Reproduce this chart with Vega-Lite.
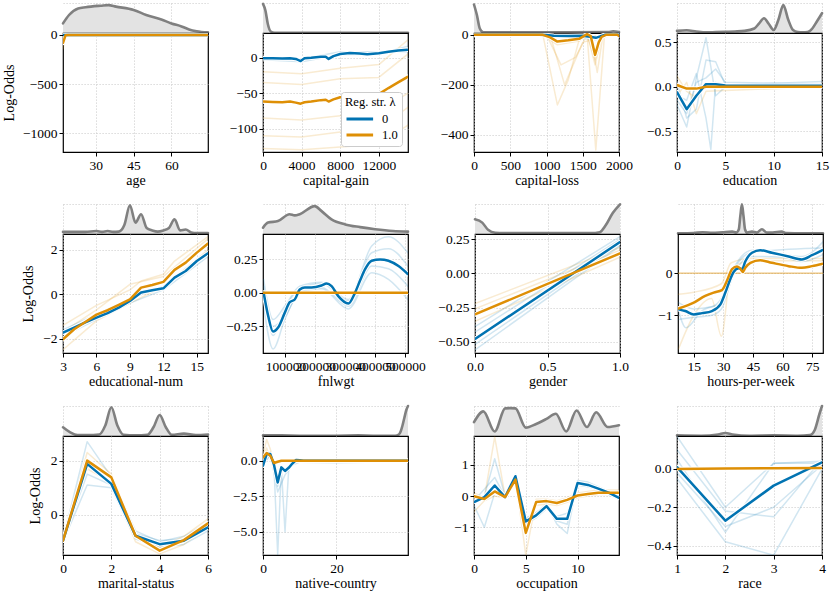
{
"$schema":"https://vega.github.io/schema/vega-lite/v6.json",
"padding":{"left":2,"top":2,"right":2,"bottom":2},
"background":"white",
"config":{
 "font":"Liberation Serif",
 "view":{"stroke":"black","strokeWidth":1.2},
 "axis":{"labelFont":"Liberation Serif","labelFontSize":13.5,"labelColor":"black","titleFont":"Liberation Serif","titleFontSize":14,"titleFontWeight":"normal","titleColor":"black","tickColor":"black","tickSize":4,"tickWidth":1,"labelPadding":2,"titlePadding":2,"domain":false,"gridColor":"#c4c4c4","gridDash":[1.2,1.8],"gridWidth":0.8,"labelFlush":false,"labelOverlap":false},
 "legend":{"labelFont":"Liberation Serif","titleFont":"Liberation Serif","labelFontSize":12.5,"titleFontSize":12.5,"titleFontWeight":"normal","labelColor":"black","titleColor":"black"},
 "line":{"strokeCap":"round","strokeJoin":"round"}
},
"datasets":{
"D_age":[{"x":17,"d":0.32},{"x":19.4,"d":0.6},{"x":23,"d":0.82},{"x":26,"d":0.86},{"x":32,"d":0.91},{"x":35,"d":0.93},{"x":38,"d":0.88},{"x":45,"d":0.77},{"x":50,"d":0.6},{"x":56,"d":0.45},{"x":60,"d":0.32},{"x":64,"d":0.22},{"x":67,"d":0.12},{"x":70,"d":0.06},{"x":74.5,"d":0.02}],
"L_age":[{"l":"0","s":"m","x":17,"y":0},{"l":"0","s":"m","x":30,"y":0},{"l":"0","s":"m","x":45,"y":0},{"l":"0","s":"m","x":60,"y":0},{"l":"0","s":"m","x":74.5,"y":0},
{"l":"1.0","s":"m","x":17,"y":-80},{"l":"1.0","s":"m","x":18,"y":-3},{"l":"1.0","s":"m","x":19,"y":0},{"l":"1.0","s":"m","x":45,"y":0},{"l":"1.0","s":"m","x":74.5,"y":0},
{"l":"0","s":"a","x":17,"y":-8},{"l":"0","s":"a","x":19,"y":0},{"l":"0","s":"a","x":74.5,"y":0},
{"l":"1.0","s":"a","x":17,"y":-140},{"l":"1.0","s":"a","x":18,"y":-10},{"l":"1.0","s":"a","x":19,"y":0},{"l":"1.0","s":"a","x":74.5,"y":0},
{"l":"1.0","s":"b","x":17,"y":-40},{"l":"1.0","s":"b","x":18,"y":0},{"l":"1.0","s":"b","x":74.5,"y":0}],
"D_cg":[{"x":0,"d":0.97},{"x":250,"d":0.75},{"x":500,"d":0.3},{"x":800,"d":0.05},{"x":1200,"d":0.01},{"x":15024,"d":0.01}],
"L_cg":[{"l":"0","s":"m","x":0,"y":-1},{"l":"0","s":"m","x":1000,"y":-1},{"l":"0","s":"m","x":2000,"y":-1.5},{"l":"0","s":"m","x":2800,"y":-1},{"l":"0","s":"m","x":3400,"y":-2},{"l":"0","s":"m","x":3900,"y":-5},{"l":"0","s":"m","x":4300,"y":-1},{"l":"0","s":"m","x":5000,"y":-0.5},{"l":"0","s":"m","x":6000,"y":1},{"l":"0","s":"m","x":6500,"y":1},{"l":"0","s":"m","x":6800,"y":-2},{"l":"0","s":"m","x":7300,"y":2},{"l":"0","s":"m","x":8000,"y":5},{"l":"0","s":"m","x":9000,"y":6.5},{"l":"0","s":"m","x":10000,"y":5.5},{"l":"0","s":"m","x":10800,"y":4.5},{"l":"0","s":"m","x":12000,"y":6},{"l":"0","s":"m","x":13000,"y":8},{"l":"0","s":"m","x":14000,"y":10},{"l":"0","s":"m","x":15024,"y":11},
{"l":"1.0","s":"m","x":0,"y":-62},{"l":"1.0","s":"m","x":1000,"y":-62.5},{"l":"1.0","s":"m","x":2000,"y":-63},{"l":"1.0","s":"m","x":2800,"y":-62},{"l":"1.0","s":"m","x":3400,"y":-63.5},{"l":"1.0","s":"m","x":3900,"y":-65},{"l":"1.0","s":"m","x":4300,"y":-63},{"l":"1.0","s":"m","x":5000,"y":-62},{"l":"1.0","s":"m","x":6000,"y":-60},{"l":"1.0","s":"m","x":6500,"y":-59.5},{"l":"1.0","s":"m","x":6800,"y":-62},{"l":"1.0","s":"m","x":7300,"y":-59},{"l":"1.0","s":"m","x":8000,"y":-56},{"l":"1.0","s":"m","x":9000,"y":-55},{"l":"1.0","s":"m","x":10000,"y":-54},{"l":"1.0","s":"m","x":11000,"y":-53},{"l":"1.0","s":"m","x":12000,"y":-51.5},{"l":"1.0","s":"m","x":13000,"y":-43},{"l":"1.0","s":"m","x":14000,"y":-35},{"l":"1.0","s":"m","x":15024,"y":-27},
{"l":"1.0","s":"a","x":0,"y":-20},{"l":"1.0","s":"a","x":4000,"y":-23},{"l":"1.0","s":"a","x":8000,"y":-15},{"l":"1.0","s":"a","x":12000,"y":-10},{"l":"1.0","s":"a","x":15024,"y":25},
{"l":"1.0","s":"b","x":0,"y":-35},{"l":"1.0","s":"b","x":4000,"y":-38},{"l":"1.0","s":"b","x":8000,"y":-30},{"l":"1.0","s":"b","x":12000,"y":-28},{"l":"1.0","s":"b","x":15024,"y":5},
{"l":"1.0","s":"c","x":0,"y":-85},{"l":"1.0","s":"c","x":4000,"y":-88},{"l":"1.0","s":"c","x":8000,"y":-82},{"l":"1.0","s":"c","x":12000,"y":-75},{"l":"1.0","s":"c","x":15024,"y":-50},
{"l":"1.0","s":"d","x":0,"y":-110},{"l":"1.0","s":"d","x":4000,"y":-112},{"l":"1.0","s":"d","x":8000,"y":-105},{"l":"1.0","s":"d","x":12000,"y":-100},{"l":"1.0","s":"d","x":15024,"y":-70},
{"l":"1.0","s":"e","x":0,"y":-128},{"l":"1.0","s":"e","x":4000,"y":-130},{"l":"1.0","s":"e","x":8000,"y":-126},{"l":"1.0","s":"e","x":12000,"y":-122},{"l":"1.0","s":"e","x":15024,"y":-95},
{"l":"0","s":"a","x":0,"y":-3},{"l":"0","s":"a","x":4000,"y":-6},{"l":"0","s":"a","x":8000,"y":4},{"l":"0","s":"a","x":12000,"y":5},{"l":"0","s":"a","x":15024,"y":16},
{"l":"0","s":"b","x":0,"y":1},{"l":"0","s":"b","x":4000,"y":-2},{"l":"0","s":"b","x":8000,"y":8},{"l":"0","s":"b","x":12000,"y":8},{"l":"0","s":"b","x":15024,"y":8}],
"D_cl":[{"x":0,"d":0.95},{"x":40,"d":0.6},{"x":80,"d":0.15},{"x":130,"d":0.02},{"x":1000,"d":0.02},{"x":1850,"d":0.03},{"x":1920,"d":0.06},{"x":2000,"d":0.03}],
"L_cl":[{"l":"0","s":"m","x":0,"y":0},{"l":"0","s":"m","x":900,"y":0},{"l":"0","s":"m","x":1000,"y":-1},{"l":"0","s":"m","x":1100,"y":-4},{"l":"0","s":"m","x":1300,"y":-5},{"l":"0","s":"m","x":1500,"y":-4},{"l":"0","s":"m","x":1600,"y":-8},{"l":"0","s":"m","x":1680,"y":-12},{"l":"0","s":"m","x":1750,"y":-5},{"l":"0","s":"m","x":1800,"y":0},{"l":"0","s":"m","x":2000,"y":0},
{"l":"1.0","s":"m","x":0,"y":0},{"l":"1.0","s":"m","x":950,"y":0},{"l":"1.0","s":"m","x":1050,"y":-10},{"l":"1.0","s":"m","x":1150,"y":-27},{"l":"1.0","s":"m","x":1300,"y":-22},{"l":"1.0","s":"m","x":1450,"y":-16},{"l":"1.0","s":"m","x":1560,"y":3},{"l":"1.0","s":"m","x":1610,"y":-5},{"l":"1.0","s":"m","x":1670,"y":-80},{"l":"1.0","s":"m","x":1720,"y":-30},{"l":"1.0","s":"m","x":1760,"y":-8},{"l":"1.0","s":"m","x":1820,"y":0},{"l":"1.0","s":"m","x":1980,"y":0},{"l":"1.0","s":"m","x":2000,"y":-5},
{"l":"1.0","s":"a","x":0,"y":0},{"l":"1.0","s":"a","x":950,"y":0},{"l":"1.0","s":"a","x":1150,"y":-280},{"l":"1.0","s":"a","x":1300,"y":-180},{"l":"1.0","s":"a","x":1450,"y":-20},{"l":"1.0","s":"a","x":1560,"y":0},{"l":"1.0","s":"a","x":1670,"y":-100},{"l":"1.0","s":"a","x":1760,"y":0},{"l":"1.0","s":"a","x":2000,"y":0},
{"l":"1.0","s":"b","x":0,"y":0},{"l":"1.0","s":"b","x":1000,"y":0},{"l":"1.0","s":"b","x":1200,"y":-120},{"l":"1.0","s":"b","x":1400,"y":-90},{"l":"1.0","s":"b","x":1560,"y":0},{"l":"1.0","s":"b","x":1680,"y":-460},{"l":"1.0","s":"b","x":1740,"y":-230},{"l":"1.0","s":"b","x":1800,"y":0},{"l":"1.0","s":"b","x":2000,"y":0},
{"l":"1.0","s":"c","x":0,"y":0},{"l":"1.0","s":"c","x":1050,"y":0},{"l":"1.0","s":"c","x":1250,"y":-200},{"l":"1.0","s":"c","x":1500,"y":-30},{"l":"1.0","s":"c","x":1620,"y":-20},{"l":"1.0","s":"c","x":1700,"y":-150},{"l":"1.0","s":"c","x":1780,"y":0},{"l":"1.0","s":"c","x":2000,"y":0},
{"l":"1.0","s":"d","x":0,"y":0},{"l":"1.0","s":"d","x":950,"y":0},{"l":"1.0","s":"d","x":1150,"y":-40},{"l":"1.0","s":"d","x":1450,"y":-25},{"l":"1.0","s":"d","x":1560,"y":5},{"l":"1.0","s":"d","x":1670,"y":-120},{"l":"1.0","s":"d","x":1760,"y":-10},{"l":"1.0","s":"d","x":2000,"y":0},
{"l":"0","s":"a","x":0,"y":0},{"l":"0","s":"a","x":1000,"y":0},{"l":"0","s":"a","x":1300,"y":-8},{"l":"0","s":"a","x":1680,"y":-20},{"l":"0","s":"a","x":1800,"y":0},{"l":"0","s":"a","x":2000,"y":0}],
"D_ed":[{"x":0,"d":0.07},{"x":1,"d":0.09},{"x":2,"d":0.05},{"x":3,"d":0.02},{"x":4,"d":0.03},{"x":5,"d":0.04},{"x":6,"d":0.05},{"x":7,"d":0.07},{"x":8,"d":0.15},{"x":8.5,"d":0.32},{"x":9,"d":0.49},{"x":9.5,"d":0.3},{"x":10,"d":0.1},{"x":10.5,"d":0.45},{"x":11,"d":0.93},{"x":11.5,"d":0.45},{"x":12,"d":0.1},{"x":12.5,"d":0.03},{"x":13,"d":0.02},{"x":13.5,"d":0.03},{"x":14,"d":0.15},{"x":14.5,"d":0.4},{"x":15,"d":0.66}],
"L_ed":[{"l":"0","s":"m","x":0,"y":-0.06},{"l":"0","s":"m","x":1,"y":-0.25},{"l":"0","s":"m","x":2,"y":-0.1},{"l":"0","s":"m","x":3,"y":0.03},{"l":"0","s":"m","x":4,"y":0.03},{"l":"0","s":"m","x":5,"y":0.015},{"l":"0","s":"m","x":10,"y":0.012},{"l":"0","s":"m","x":15,"y":0.012},
{"l":"1.0","s":"m","x":0,"y":0.02},{"l":"1.0","s":"m","x":1,"y":-0.02},{"l":"1.0","s":"m","x":2,"y":-0.02},{"l":"1.0","s":"m","x":3,"y":0},{"l":"1.0","s":"m","x":4,"y":0},{"l":"1.0","s":"m","x":15,"y":0},
{"l":"0","s":"a","x":0,"y":-0.2},{"l":"0","s":"a","x":1,"y":-0.45},{"l":"0","s":"a","x":2,"y":0.1},{"l":"0","s":"a","x":3,"y":0.55},{"l":"0","s":"a","x":4,"y":-0.1},{"l":"0","s":"a","x":5,"y":0},{"l":"0","s":"a","x":15,"y":0.02},
{"l":"0","s":"b","x":0,"y":0.05},{"l":"0","s":"b","x":1,"y":-0.35},{"l":"0","s":"b","x":2,"y":-0.25},{"l":"0","s":"b","x":3,"y":0.3},{"l":"0","s":"b","x":4,"y":0.28},{"l":"0","s":"b","x":5,"y":0.02},{"l":"0","s":"b","x":15,"y":0.06},
{"l":"0","s":"c","x":0,"y":-0.1},{"l":"0","s":"c","x":1,"y":-0.15},{"l":"0","s":"c","x":2,"y":0.15},{"l":"0","s":"c","x":3,"y":-0.35},{"l":"0","s":"c","x":3.5,"y":-0.7},{"l":"0","s":"c","x":4,"y":0.05},{"l":"0","s":"c","x":5,"y":0.02},{"l":"0","s":"c","x":15,"y":0.01},
{"l":"0","s":"d","x":0,"y":-0.15},{"l":"0","s":"d","x":1,"y":-0.3},{"l":"0","s":"d","x":2,"y":0.05},{"l":"0","s":"d","x":3,"y":0.1},{"l":"0","s":"d","x":4,"y":0.2},{"l":"0","s":"d","x":5,"y":0.05},{"l":"0","s":"d","x":15,"y":0.03},
{"l":"1.0","s":"a","x":0,"y":0.12},{"l":"1.0","s":"a","x":1,"y":-0.05},{"l":"1.0","s":"a","x":2,"y":-0.12},{"l":"1.0","s":"a","x":3,"y":0.02},{"l":"1.0","s":"a","x":15,"y":0},
{"l":"1.0","s":"b","x":0,"y":-0.1},{"l":"1.0","s":"b","x":1,"y":0.05},{"l":"1.0","s":"b","x":2,"y":-0.3},{"l":"1.0","s":"b","x":3,"y":-0.05},{"l":"1.0","s":"b","x":15,"y":0}],
"D_en":[{"x":3,"d":0.07},{"x":5,"d":0.07},{"x":6,"d":0.1},{"x":6.5,"d":0.07},{"x":7,"d":0.1},{"x":7.5,"d":0.07},{"x":8,"d":0.08},{"x":8.5,"d":0.3},{"x":9,"d":0.96},{"x":9.5,"d":0.38},{"x":10,"d":0.66},{"x":10.5,"d":0.2},{"x":11,"d":0.12},{"x":11.5,"d":0.08},{"x":12,"d":0.12},{"x":12.5,"d":0.2},{"x":13,"d":0.49},{"x":13.5,"d":0.12},{"x":14,"d":0.15},{"x":14.5,"d":0.05},{"x":15,"d":0.03},{"x":16,"d":0.03}],
"L_en":[{"l":"0","s":"m","x":3,"y":-1.73},{"l":"0","s":"m","x":4,"y":-1.5},{"l":"0","s":"m","x":5,"y":-1.27},{"l":"0","s":"m","x":6,"y":-1.05},{"l":"0","s":"m","x":7,"y":-0.85},{"l":"0","s":"m","x":8,"y":-0.6},{"l":"0","s":"m","x":9,"y":-0.3},{"l":"0","s":"m","x":10,"y":0.08},{"l":"0","s":"m","x":11,"y":0.18},{"l":"0","s":"m","x":12,"y":0.27},{"l":"0","s":"m","x":13,"y":0.75},{"l":"0","s":"m","x":14,"y":1.05},{"l":"0","s":"m","x":15,"y":1.5},{"l":"0","s":"m","x":16,"y":1.85},
{"l":"1.0","s":"m","x":3,"y":-2.03},{"l":"1.0","s":"m","x":4,"y":-1.58},{"l":"1.0","s":"m","x":5,"y":-1.25},{"l":"1.0","s":"m","x":6,"y":-0.92},{"l":"1.0","s":"m","x":7,"y":-0.72},{"l":"1.0","s":"m","x":8,"y":-0.48},{"l":"1.0","s":"m","x":9,"y":-0.23},{"l":"1.0","s":"m","x":10,"y":0.3},{"l":"1.0","s":"m","x":11,"y":0.42},{"l":"1.0","s":"m","x":12,"y":0.56},{"l":"1.0","s":"m","x":13,"y":1.1},{"l":"1.0","s":"m","x":14,"y":1.43},{"l":"1.0","s":"m","x":15,"y":1.88},{"l":"1.0","s":"m","x":16,"y":2.29},
{"l":"1.0","s":"a","x":3,"y":-1.4},{"l":"1.0","s":"a","x":6,"y":-0.5},{"l":"1.0","s":"a","x":9,"y":0.2},{"l":"1.0","s":"a","x":10,"y":0.6},{"l":"1.0","s":"a","x":12,"y":0.9},{"l":"1.0","s":"a","x":13,"y":1.5},{"l":"1.0","s":"a","x":16,"y":2.6},
{"l":"1.0","s":"b","x":3,"y":-2.5},{"l":"1.0","s":"b","x":6,"y":-1.2},{"l":"1.0","s":"b","x":9,"y":-0.4},{"l":"1.0","s":"b","x":12,"y":0.35},{"l":"1.0","s":"b","x":16,"y":2.0},
{"l":"1.0","s":"c","x":3,"y":-1.7},{"l":"1.0","s":"c","x":6,"y":-0.7},{"l":"1.0","s":"c","x":9,"y":0.45},{"l":"1.0","s":"c","x":12,"y":0.8},{"l":"1.0","s":"c","x":16,"y":2.5},
{"l":"0","s":"a","x":3,"y":-1.6},{"l":"0","s":"a","x":9,"y":-0.2},{"l":"0","s":"a","x":12,"y":0.35},{"l":"0","s":"a","x":16,"y":1.95},
{"l":"0","s":"b","x":3,"y":-1.9},{"l":"0","s":"b","x":9,"y":-0.4},{"l":"0","s":"b","x":12,"y":0.2},{"l":"0","s":"b","x":16,"y":1.7}],
"D_fn":[{"x":25000,"d":0.21},{"x":42000,"d":0.38},{"x":75000,"d":0.43},{"x":114000,"d":0.66},{"x":131000,"d":0.62},{"x":148000,"d":0.66},{"x":198000,"d":0.93},{"x":220000,"d":0.77},{"x":254000,"d":0.49},{"x":300000,"d":0.32},{"x":350000,"d":0.23},{"x":400000,"d":0.16},{"x":460000,"d":0.1},{"x":510000,"d":0.08}],
"L_fn":[{"l":"0","s":"m","x":27200,"y":0},{"l":"0","s":"m","x":42000,"y":-0.17},{"l":"0","s":"m","x":58700,"y":-0.29},{"l":"0","s":"m","x":75500,"y":-0.26},{"l":"0","s":"m","x":97700,"y":-0.15},{"l":"0","s":"m","x":114400,"y":-0.07},{"l":"0","s":"m","x":131200,"y":-0.05},{"l":"0","s":"m","x":148000,"y":0.025},{"l":"0","s":"m","x":164800,"y":0.04},{"l":"0","s":"m","x":187200,"y":0.04},{"l":"0","s":"m","x":220800,"y":0.055},{"l":"0","s":"m","x":237600,"y":0.07},{"l":"0","s":"m","x":254400,"y":0.05},{"l":"0","s":"m","x":276800,"y":-0.025},{"l":"0","s":"m","x":310400,"y":-0.08},{"l":"0","s":"m","x":332600,"y":0},{"l":"0","s":"m","x":349300,"y":0.09},{"l":"0","s":"m","x":366100,"y":0.175},{"l":"0","s":"m","x":388600,"y":0.24},{"l":"0","s":"m","x":416400,"y":0.25},{"l":"0","s":"m","x":444600,"y":0.24},{"l":"0","s":"m","x":478200,"y":0.2},{"l":"0","s":"m","x":509400,"y":0.14},
{"l":"1.0","s":"m","x":25000,"y":0},{"l":"1.0","s":"m","x":510000,"y":0},
{"l":"0","s":"a","x":27200,"y":0.1},{"l":"0","s":"a","x":58700,"y":-0.2},{"l":"0","s":"a","x":97700,"y":-0.1},{"l":"0","s":"a","x":148000,"y":0.05},{"l":"0","s":"a","x":220800,"y":0.08},{"l":"0","s":"a","x":310400,"y":-0.05},{"l":"0","s":"a","x":388600,"y":0.35},{"l":"0","s":"a","x":444600,"y":0.42},{"l":"0","s":"a","x":509400,"y":0.3},
{"l":"0","s":"b","x":27200,"y":-0.1},{"l":"0","s":"b","x":58700,"y":-0.42},{"l":"0","s":"b","x":97700,"y":-0.2},{"l":"0","s":"b","x":148000,"y":0},{"l":"0","s":"b","x":220800,"y":0.03},{"l":"0","s":"b","x":310400,"y":-0.12},{"l":"0","s":"b","x":388600,"y":0.15},{"l":"0","s":"b","x":444600,"y":0.1},{"l":"0","s":"b","x":509400,"y":-0.05},
{"l":"0","s":"c","x":27200,"y":0.05},{"l":"0","s":"c","x":58700,"y":-0.32},{"l":"0","s":"c","x":97700,"y":-0.12},{"l":"0","s":"c","x":148000,"y":0.03},{"l":"0","s":"c","x":220800,"y":0.07},{"l":"0","s":"c","x":310400,"y":-0.06},{"l":"0","s":"c","x":388600,"y":0.3},{"l":"0","s":"c","x":444600,"y":0.33},{"l":"0","s":"c","x":509400,"y":0.2},
{"l":"0","s":"d","x":27200,"y":-0.05},{"l":"0","s":"d","x":58700,"y":-0.25},{"l":"0","s":"d","x":97700,"y":-0.18},{"l":"0","s":"d","x":148000,"y":0.01},{"l":"0","s":"d","x":220800,"y":0.04},{"l":"0","s":"d","x":310400,"y":-0.1},{"l":"0","s":"d","x":388600,"y":0.2},{"l":"0","s":"d","x":444600,"y":0.18},{"l":"0","s":"d","x":509400,"y":0.05}],
"D_ge":[{"x":0,"d":0.49},{"x":0.05,"d":0.38},{"x":0.09,"d":0.14},{"x":0.14,"d":0.04},{"x":0.2,"d":0.03},{"x":0.8,"d":0.03},{"x":0.86,"d":0.06},{"x":0.9,"d":0.28},{"x":0.95,"d":0.7},{"x":1,"d":0.99}],
"L_ge":[{"l":"0","s":"m","x":0,"y":-0.48},{"l":"0","s":"m","x":1,"y":0.23},{"l":"1.0","s":"m","x":0,"y":-0.3},{"l":"1.0","s":"m","x":1,"y":0.147},
{"l":"0","s":"a","x":0,"y":-0.39},{"l":"0","s":"a","x":1,"y":0.27},{"l":"0","s":"b","x":0,"y":-0.56},{"l":"0","s":"b","x":1,"y":0.2},{"l":"0","s":"c","x":0,"y":-0.43},{"l":"0","s":"c","x":1,"y":0.25},{"l":"0","s":"d","x":0,"y":-0.52},{"l":"0","s":"d","x":1,"y":0.21},
{"l":"1.0","s":"a","x":0,"y":-0.22},{"l":"1.0","s":"a","x":1,"y":0.19},{"l":"1.0","s":"b","x":0,"y":-0.35},{"l":"1.0","s":"b","x":1,"y":0.12},{"l":"1.0","s":"c","x":0,"y":-0.26},{"l":"1.0","s":"c","x":1,"y":0.17}],
"D_hw":[{"x":7,"d":0.02},{"x":15,"d":0.03},{"x":19.5,"d":0.06},{"x":24.5,"d":0.04},{"x":29.5,"d":0.06},{"x":34.5,"d":0.08},{"x":36.5,"d":0.05},{"x":37.8,"d":0.15},{"x":38.6,"d":0.6},{"x":39.4,"d":0.99},{"x":40.2,"d":0.6},{"x":41,"d":0.15},{"x":42,"d":0.05},{"x":44.5,"d":0.08},{"x":47,"d":0.05},{"x":49.5,"d":0.16},{"x":52,"d":0.05},{"x":55,"d":0.05},{"x":59.5,"d":0.08},{"x":62,"d":0.03},{"x":70,"d":0.02},{"x":80.5,"d":0.02}],
"L_hw":[{"l":"0","s":"m","x":7.3,"y":-0.86},{"l":"0","s":"m","x":10.7,"y":-0.9},{"l":"0","s":"m","x":15,"y":-0.98},{"l":"0","s":"m","x":19.2,"y":-0.95},{"l":"0","s":"m","x":24.2,"y":-0.9},{"l":"0","s":"m","x":28.5,"y":-0.74},{"l":"0","s":"m","x":31,"y":-0.46},{"l":"0","s":"m","x":33.5,"y":-0.14},{"l":"0","s":"m","x":35.2,"y":0.03},{"l":"0","s":"m","x":37.8,"y":0.12},{"l":"0","s":"m","x":39.5,"y":0.1},{"l":"0","s":"m","x":41.1,"y":0.28},{"l":"0","s":"m","x":44.5,"y":0.49},{"l":"0","s":"m","x":48.7,"y":0.55},{"l":"0","s":"m","x":54.6,"y":0.49},{"l":"0","s":"m","x":63.1,"y":0.4},{"l":"0","s":"m","x":69.8,"y":0.33},{"l":"0","s":"m","x":74.9,"y":0.43},{"l":"0","s":"m","x":80.5,"y":0.56},
{"l":"1.0","s":"m","x":7.3,"y":-0.84},{"l":"1.0","s":"m","x":15,"y":-0.7},{"l":"1.0","s":"m","x":20.8,"y":-0.54},{"l":"1.0","s":"m","x":25.1,"y":-0.46},{"l":"1.0","s":"m","x":29.3,"y":-0.4},{"l":"1.0","s":"m","x":31.8,"y":-0.18},{"l":"1.0","s":"m","x":34.4,"y":0.1},{"l":"1.0","s":"m","x":36.9,"y":0.16},{"l":"1.0","s":"m","x":38.6,"y":0.11},{"l":"1.0","s":"m","x":39.8,"y":0.03},{"l":"1.0","s":"m","x":41.1,"y":0.13},{"l":"1.0","s":"m","x":43.7,"y":0.25},{"l":"1.0","s":"m","x":48.7,"y":0.31},{"l":"1.0","s":"m","x":54.6,"y":0.25},{"l":"1.0","s":"m","x":63.1,"y":0.17},{"l":"1.0","s":"m","x":69.8,"y":0.13},{"l":"1.0","s":"m","x":74.9,"y":0.17},{"l":"1.0","s":"m","x":80.5,"y":0.23},
{"l":"1.0","s":"a","x":7,"y":0},{"l":"1.0","s":"a","x":80.5,"y":0},{"l":"1.0","s":"b","x":7,"y":0},{"l":"1.0","s":"b","x":80.5,"y":0},{"l":"1.0","s":"c","x":7,"y":0},{"l":"1.0","s":"c","x":80.5,"y":0},
{"l":"1.0","s":"d","x":7.3,"y":-1.8},{"l":"1.0","s":"d","x":15,"y":-1.0},{"l":"1.0","s":"d","x":24,"y":-0.6},{"l":"1.0","s":"d","x":29,"y":-1.5},{"l":"1.0","s":"d","x":34,"y":0.1},{"l":"1.0","s":"d","x":44,"y":0.3},{"l":"1.0","s":"d","x":80.5,"y":0.3},
{"l":"1.0","s":"e","x":7.3,"y":-0.5},{"l":"1.0","s":"e","x":15,"y":-0.45},{"l":"1.0","s":"e","x":29,"y":-0.25},{"l":"1.0","s":"e","x":34,"y":0.25},{"l":"1.0","s":"e","x":44,"y":0.35},{"l":"1.0","s":"e","x":80.5,"y":0.35},
{"l":"0","s":"a","x":7.3,"y":-0.7},{"l":"0","s":"a","x":15,"y":-0.85},{"l":"0","s":"a","x":24,"y":-0.8},{"l":"0","s":"a","x":29,"y":-0.6},{"l":"0","s":"a","x":35,"y":0.1},{"l":"0","s":"a","x":44.5,"y":0.55},{"l":"0","s":"a","x":60,"y":0.45},{"l":"0","s":"a","x":70,"y":0.4},{"l":"0","s":"a","x":80.5,"y":0.75},
{"l":"0","s":"b","x":7.3,"y":-1.1},{"l":"0","s":"b","x":15,"y":-1.05},{"l":"0","s":"b","x":24,"y":-1.0},{"l":"0","s":"b","x":29,"y":-0.85},{"l":"0","s":"b","x":35,"y":-0.05},{"l":"0","s":"b","x":44.5,"y":0.4},{"l":"0","s":"b","x":60,"y":0.38},{"l":"0","s":"b","x":70,"y":0.28},{"l":"0","s":"b","x":80.5,"y":0.45},
{"l":"0","s":"c","x":7.3,"y":-0.9},{"l":"0","s":"c","x":11,"y":-1.3},{"l":"0","s":"c","x":19,"y":-0.9},{"l":"0","s":"c","x":29,"y":-0.7},{"l":"0","s":"c","x":35,"y":0.05},{"l":"0","s":"c","x":44.5,"y":0.5},{"l":"0","s":"c","x":80.5,"y":0.6}],
"D_ms":[{"x":0,"d":0.29},{"x":0.3,"d":0.12},{"x":0.6,"d":0.03},{"x":1,"d":0.03},{"x":1.5,"d":0.05},{"x":1.75,"d":0.35},{"x":2,"d":0.96},{"x":2.25,"d":0.35},{"x":2.5,"d":0.04},{"x":3,"d":0.02},{"x":3.5,"d":0.04},{"x":3.75,"d":0.3},{"x":4,"d":0.7},{"x":4.25,"d":0.3},{"x":4.5,"d":0.04},{"x":5,"d":0.08},{"x":5.5,"d":0.03},{"x":6,"d":0.05}],
"L_ms":[{"l":"0","s":"m","x":0,"y":-0.96},{"l":"0","s":"m","x":1,"y":1.88},{"l":"0","s":"m","x":2,"y":1.14},{"l":"0","s":"m","x":3,"y":-0.78},{"l":"0","s":"m","x":4,"y":-1.09},{"l":"0","s":"m","x":5,"y":-0.96},{"l":"0","s":"m","x":6,"y":-0.47},
{"l":"1.0","s":"m","x":0,"y":-0.96},{"l":"1.0","s":"m","x":1,"y":2.0},{"l":"1.0","s":"m","x":2,"y":1.38},{"l":"1.0","s":"m","x":3,"y":-0.78},{"l":"1.0","s":"m","x":4,"y":-1.33},{"l":"1.0","s":"m","x":5,"y":-0.94},{"l":"1.0","s":"m","x":6,"y":-0.32},
{"l":"0","s":"a","x":0,"y":-0.9},{"l":"0","s":"a","x":1,"y":2.7},{"l":"0","s":"a","x":2,"y":1.4},{"l":"0","s":"a","x":3,"y":-0.6},{"l":"0","s":"a","x":4,"y":-1.0},{"l":"0","s":"a","x":5,"y":-0.8},{"l":"0","s":"a","x":6,"y":-0.3},
{"l":"0","s":"b","x":0,"y":-1.0},{"l":"0","s":"b","x":1,"y":1.1},{"l":"0","s":"b","x":2,"y":1.0},{"l":"0","s":"b","x":3,"y":-0.9},{"l":"0","s":"b","x":4,"y":-1.2},{"l":"0","s":"b","x":5,"y":-1.1},{"l":"0","s":"b","x":6,"y":-0.6},
{"l":"0","s":"c","x":0,"y":-0.95},{"l":"0","s":"c","x":1,"y":1.5},{"l":"0","s":"c","x":2,"y":1.1},{"l":"0","s":"c","x":3,"y":-0.7},{"l":"0","s":"c","x":4,"y":-0.95},{"l":"0","s":"c","x":5,"y":-0.9},{"l":"0","s":"c","x":6,"y":-0.55},
{"l":"1.0","s":"a","x":0,"y":-0.9},{"l":"1.0","s":"a","x":1,"y":2.3},{"l":"1.0","s":"a","x":2,"y":1.5},{"l":"1.0","s":"a","x":3,"y":-0.7},{"l":"1.0","s":"a","x":4,"y":-1.2},{"l":"1.0","s":"a","x":5,"y":-0.8},{"l":"1.0","s":"a","x":6,"y":-0.15},
{"l":"1.0","s":"b","x":0,"y":-1.0},{"l":"1.0","s":"b","x":1,"y":1.7},{"l":"1.0","s":"b","x":2,"y":1.2},{"l":"1.0","s":"b","x":3,"y":-1.0},{"l":"1.0","s":"b","x":4,"y":-1.45},{"l":"1.0","s":"b","x":5,"y":-1.1},{"l":"1.0","s":"b","x":6,"y":-0.45}],
"D_nc":[{"x":0,"d":0.02},{"x":5,"d":0.02},{"x":10,"d":0.01},{"x":20,"d":0.01},{"x":26,"d":0.02},{"x":30,"d":0.01},{"x":36,"d":0.01},{"x":37,"d":0.05},{"x":37.5,"d":0.15},{"x":38,"d":0.35},{"x":38.5,"d":0.6},{"x":39,"d":0.85},{"x":39.5,"d":1.0}],
"L_nc":[{"l":"0","s":"m","x":0,"y":-0.35},{"l":"0","s":"m","x":1,"y":0.47},{"l":"0","s":"m","x":2,"y":0.47},{"l":"0","s":"m","x":3,"y":-0.3},{"l":"0","s":"m","x":4,"y":-1.53},{"l":"0","s":"m","x":5,"y":-0.47},{"l":"0","s":"m","x":6,"y":-0.72},{"l":"0","s":"m","x":7,"y":-0.5},{"l":"0","s":"m","x":8,"y":-0.2},{"l":"0","s":"m","x":9,"y":0.05},{"l":"0","s":"m","x":10,"y":0.03},{"l":"0","s":"m","x":11,"y":0},{"l":"0","s":"m","x":39.5,"y":0},
{"l":"1.0","s":"m","x":0,"y":0.23},{"l":"1.0","s":"m","x":1,"y":0.54},{"l":"1.0","s":"m","x":2,"y":0.35},{"l":"1.0","s":"m","x":3,"y":-0.16},{"l":"1.0","s":"m","x":4,"y":-0.07},{"l":"1.0","s":"m","x":5,"y":0},{"l":"1.0","s":"m","x":39.5,"y":0},
{"l":"0","s":"a","x":0,"y":-0.3},{"l":"0","s":"a","x":2,"y":0.4},{"l":"0","s":"a","x":3,"y":-0.5},{"l":"0","s":"a","x":4,"y":-6.6},{"l":"0","s":"a","x":5,"y":-0.5},{"l":"0","s":"a","x":6,"y":-0.8},{"l":"0","s":"a","x":8,"y":-0.2},{"l":"0","s":"a","x":10,"y":0},{"l":"0","s":"a","x":39.5,"y":0},
{"l":"0","s":"b","x":0,"y":-0.4},{"l":"0","s":"b","x":2,"y":0.6},{"l":"0","s":"b","x":4,"y":-1.8},{"l":"0","s":"b","x":5,"y":-0.5},{"l":"0","s":"b","x":6,"y":-5.0},{"l":"0","s":"b","x":7,"y":-0.6},{"l":"0","s":"b","x":9,"y":0},{"l":"0","s":"b","x":39.5,"y":0},
{"l":"0","s":"c","x":0,"y":-0.3},{"l":"0","s":"c","x":2,"y":0.5},{"l":"0","s":"c","x":4,"y":-2.2},{"l":"0","s":"c","x":6,"y":-1.0},{"l":"0","s":"c","x":8,"y":-0.3},{"l":"0","s":"c","x":10,"y":-0.1},{"l":"0","s":"c","x":20,"y":-0.15},{"l":"0","s":"c","x":28,"y":-0.1},{"l":"0","s":"c","x":39.5,"y":0},
{"l":"1.0","s":"a","x":0,"y":0.4},{"l":"1.0","s":"a","x":1,"y":1.5},{"l":"1.0","s":"a","x":2,"y":0.8},{"l":"1.0","s":"a","x":3,"y":-0.1},{"l":"1.0","s":"a","x":5,"y":0},{"l":"1.0","s":"a","x":39.5,"y":0},
{"l":"1.0","s":"b","x":0,"y":0.1},{"l":"1.0","s":"b","x":1,"y":0.9},{"l":"1.0","s":"b","x":2,"y":0.1},{"l":"1.0","s":"b","x":3,"y":-0.3},{"l":"1.0","s":"b","x":5,"y":0},{"l":"1.0","s":"b","x":39.5,"y":0}],
"D_oc":[{"x":0,"d":0.46},{"x":0.9,"d":0.82},{"x":2,"d":0.15},{"x":3,"d":0.92},{"x":3.5,"d":0.93},{"x":4,"d":0.92},{"x":5,"d":0.28},{"x":6,"d":0.4},{"x":7,"d":0.57},{"x":7.9,"d":0.74},{"x":8.9,"d":0.15},{"x":9.9,"d":0.85},{"x":10.9,"d":0.3},{"x":11.8,"d":0.79},{"x":12.9,"d":0.3},{"x":14,"d":0.36}],
"L_oc":[{"l":"0","s":"m","x":0,"y":-0.19},{"l":"0","s":"m","x":1,"y":-0.03},{"l":"0","s":"m","x":2,"y":0.34},{"l":"0","s":"m","x":3,"y":-0.03},{"l":"0","s":"m","x":4,"y":0.64},{"l":"0","s":"m","x":5,"y":-0.81},{"l":"0","s":"m","x":6,"y":-0.62},{"l":"0","s":"m","x":7,"y":-0.32},{"l":"0","s":"m","x":8,"y":-0.73},{"l":"0","s":"m","x":9,"y":-0.73},{"l":"0","s":"m","x":10,"y":0.42},{"l":"0","s":"m","x":11,"y":0.36},{"l":"0","s":"m","x":12,"y":0.24},{"l":"0","s":"m","x":13,"y":0.11},{"l":"0","s":"m","x":14,"y":-0.06},
{"l":"1.0","s":"m","x":0,"y":0},{"l":"1.0","s":"m","x":1,"y":-0.09},{"l":"1.0","s":"m","x":2,"y":0.15},{"l":"1.0","s":"m","x":3,"y":-0.03},{"l":"1.0","s":"m","x":4,"y":0.53},{"l":"1.0","s":"m","x":5,"y":-1.18},{"l":"1.0","s":"m","x":6,"y":-0.19},{"l":"1.0","s":"m","x":7,"y":-0.16},{"l":"1.0","s":"m","x":8,"y":-0.22},{"l":"1.0","s":"m","x":9,"y":-0.12},{"l":"1.0","s":"m","x":10,"y":0.02},{"l":"1.0","s":"m","x":11,"y":0.07},{"l":"1.0","s":"m","x":12,"y":0.11},{"l":"1.0","s":"m","x":13,"y":0.11},{"l":"1.0","s":"m","x":14,"y":0.11},
{"l":"0","s":"a","x":0,"y":-0.1},{"l":"0","s":"a","x":1,"y":0},{"l":"0","s":"a","x":2,"y":1.2},{"l":"0","s":"a","x":3,"y":0},{"l":"0","s":"a","x":4,"y":0.7},{"l":"0","s":"a","x":5,"y":-0.7},{"l":"0","s":"a","x":6,"y":-0.55},{"l":"0","s":"a","x":7,"y":-0.25},{"l":"0","s":"a","x":8,"y":-0.9},{"l":"0","s":"a","x":9,"y":-1.2},{"l":"0","s":"a","x":10,"y":0.5},{"l":"0","s":"a","x":11,"y":0.45},{"l":"0","s":"a","x":12,"y":0.3},{"l":"0","s":"a","x":13,"y":0.15},{"l":"0","s":"a","x":14,"y":0},
{"l":"0","s":"b","x":0,"y":-0.3},{"l":"0","s":"b","x":1,"y":-1.0},{"l":"0","s":"b","x":2,"y":0.1},{"l":"0","s":"b","x":3,"y":-0.05},{"l":"0","s":"b","x":4,"y":0.55},{"l":"0","s":"b","x":5,"y":-0.9},{"l":"0","s":"b","x":6,"y":-0.7},{"l":"0","s":"b","x":7,"y":-0.4},{"l":"0","s":"b","x":8,"y":-0.65},{"l":"0","s":"b","x":9,"y":-0.55},{"l":"0","s":"b","x":10,"y":0.35},{"l":"0","s":"b","x":11,"y":0.3},{"l":"0","s":"b","x":12,"y":0.2},{"l":"0","s":"b","x":13,"y":0.05},{"l":"0","s":"b","x":14,"y":-0.1},
{"l":"0","s":"c","x":0,"y":-0.15},{"l":"0","s":"c","x":2,"y":0.6},{"l":"0","s":"c","x":3,"y":-0.02},{"l":"0","s":"c","x":4,"y":0.6},{"l":"0","s":"c","x":5,"y":-0.75},{"l":"0","s":"c","x":7,"y":-0.3},{"l":"0","s":"c","x":8,"y":-0.8},{"l":"0","s":"c","x":9,"y":-0.9},{"l":"0","s":"c","x":10,"y":0.45},{"l":"0","s":"c","x":14,"y":-0.03},
{"l":"1.0","s":"a","x":0,"y":0.1},{"l":"1.0","s":"a","x":1,"y":-0.05},{"l":"1.0","s":"a","x":2,"y":1.9},{"l":"1.0","s":"a","x":3,"y":0},{"l":"1.0","s":"a","x":4,"y":0.6},{"l":"1.0","s":"a","x":5,"y":-1.9},{"l":"1.0","s":"a","x":6,"y":-0.1},{"l":"1.0","s":"a","x":7,"y":-0.1},{"l":"1.0","s":"a","x":8,"y":-0.15},{"l":"1.0","s":"a","x":9,"y":-0.05},{"l":"1.0","s":"a","x":10,"y":0.1},{"l":"1.0","s":"a","x":11,"y":0.15},{"l":"1.0","s":"a","x":12,"y":0.2},{"l":"1.0","s":"a","x":13,"y":0.2},{"l":"1.0","s":"a","x":14,"y":0.2},
{"l":"1.0","s":"b","x":0,"y":-0.5},{"l":"1.0","s":"b","x":1,"y":-0.15},{"l":"1.0","s":"b","x":2,"y":0},{"l":"1.0","s":"b","x":3,"y":-0.05},{"l":"1.0","s":"b","x":4,"y":0.45},{"l":"1.0","s":"b","x":5,"y":-0.9},{"l":"1.0","s":"b","x":6,"y":-0.3},{"l":"1.0","s":"b","x":7,"y":-0.25},{"l":"1.0","s":"b","x":8,"y":-0.3},{"l":"1.0","s":"b","x":9,"y":-0.2},{"l":"1.0","s":"b","x":10,"y":-0.05},{"l":"1.0","s":"b","x":11,"y":0},{"l":"1.0","s":"b","x":12,"y":0.05},{"l":"1.0","s":"b","x":13,"y":0.05},{"l":"1.0","s":"b","x":14,"y":0.05}],
"D_ra":[{"x":1,"d":0.02},{"x":1.5,"d":0.01},{"x":1.85,"d":0.05},{"x":2,"d":0.1},{"x":2.15,"d":0.05},{"x":2.5,"d":0.01},{"x":3,"d":0.02},{"x":3.5,"d":0.01},{"x":3.75,"d":0.03},{"x":3.85,"d":0.2},{"x":3.95,"d":0.75},{"x":4,"d":1.0}],
"L_ra":[{"l":"0","s":"m","x":1,"y":0.01},{"l":"0","s":"m","x":2,"y":-0.27},{"l":"0","s":"m","x":3,"y":-0.087},{"l":"0","s":"m","x":4,"y":0.035},
{"l":"1.0","s":"m","x":1,"y":0},{"l":"1.0","s":"m","x":2,"y":0.003},{"l":"1.0","s":"m","x":3,"y":0.004},{"l":"1.0","s":"m","x":4,"y":0.005},
{"l":"0","s":"a","x":1,"y":0.17},{"l":"0","s":"a","x":2,"y":-0.2},{"l":"0","s":"a","x":3,"y":0.03},{"l":"0","s":"a","x":4,"y":0.04},
{"l":"0","s":"b","x":1,"y":-0.05},{"l":"0","s":"b","x":2,"y":-0.38},{"l":"0","s":"b","x":3,"y":-0.45},{"l":"0","s":"b","x":4,"y":0},
{"l":"0","s":"c","x":1,"y":0.1},{"l":"0","s":"c","x":2,"y":-0.22},{"l":"0","s":"c","x":3,"y":-0.25},{"l":"0","s":"c","x":4,"y":0.05},
{"l":"0","s":"d","x":1,"y":0.05},{"l":"0","s":"d","x":2,"y":-0.33},{"l":"0","s":"d","x":3,"y":0.03},{"l":"0","s":"d","x":4,"y":0.03},
{"l":"0","s":"e","x":1,"y":-0.02},{"l":"0","s":"e","x":2,"y":-0.3},{"l":"0","s":"e","x":3,"y":-0.2},{"l":"0","s":"e","x":4,"y":0.02}]
},
"spacing":14,
"resolve":{"legend":{"color":"independent"}},
"vconcat":[
{"hconcat":[
 {"vconcat":[
  {"width":145,"height":30,"view":{"stroke":null},"data":{"name":"D_age"},"layer":[
   {"mark":{"type":"area","color":"#e3e3e3","interpolate":"monotone"},"encoding":{"x":{"field":"x","type":"quantitative","scale":{"domain":[17,74.5],"nice":false,"zero":false},"axis":{"title":null,"labels":false,"ticks":false,"domain":false,"grid":true,"values":[30,45,60],"tickCount":20,"minExtent":0,"maxExtent":0}},"y":{"field":"d","type":"quantitative","scale":{"domain":[0,1],"nice":false},"axis":{"orient":"left","title":null,"labels":false,"ticks":false,"grid":true,"values":[1],"domain":true,"domainOpacity":0,"minExtent":60,"maxExtent":60}}}},
   {"mark":{"type":"line","color":"#808080","strokeWidth":2.6,"interpolate":"monotone"},"encoding":{"x":{"field":"x","type":"quantitative"},"y":{"field":"d","type":"quantitative","scale":{"domain":[0,1],"nice":false},"axis":{"orient":"right","title":null,"labels":false,"ticks":false,"grid":false,"domain":true,"domainOpacity":0,"minExtent":17,"maxExtent":17}}}}],
   "resolve":{"scale":{"y":"independent"}}},
  {"width":145,"height":119,"data":{"name":"L_age"},"layer":[
   {"transform":[{"filter":"datum.s != 'm'"}],"mark":{"type":"line","strokeWidth":1.5,"opacity":0.18,"clip":true},"encoding":{"x":{"field":"x","type":"quantitative","scale":{"domain":[17,74.5],"nice":false,"zero":false},"axis":{"title":"age","values":[30,45,60],"tickCount":20,"format":"d","labelOverlap":false}},"y":{"field":"y","type":"quantitative","scale":{"domain":[-1190,20],"nice":false,"zero":false},"axis":{"title":"Log-Odds","titlePadding":5.5,"values":[0,-500,-1000],"tickCount":20,"format":"d","labelOverlap":false}},"color":{"field":"l","type":"nominal","scale":{"domain":["0","1.0"],"range":["#0173B2","#DE8F05"]},"legend":null},"detail":{"field":"s"}}},
   {"transform":[{"filter":"datum.s == 'm'"}],"mark":{"type":"line","color":"white","strokeWidth":4.5,"clip":true},"encoding":{"x":{"field":"x","type":"quantitative"},"y":{"field":"y","type":"quantitative"},"detail":{"field":"l"}}},
   {"transform":[{"filter":"datum.s == 'm'"}],"mark":{"type":"line","strokeWidth":2.5,"clip":true},"encoding":{"x":{"field":"x","type":"quantitative"},"y":{"field":"y","type":"quantitative"},"color":{"field":"l","type":"nominal","legend":null}}}]}
 ],"spacing":0,"bounds":"flush","resolve":{"legend":{"color":"independent"}}},
 {"vconcat":[
  {"width":145,"height":30,"view":{"stroke":null},"data":{"name":"D_cg"},"layer":[
   {"mark":{"type":"area","color":"#e3e3e3","interpolate":"monotone"},"encoding":{"x":{"field":"x","type":"quantitative","scale":{"domain":[0,15024],"nice":false,"zero":false},"axis":{"title":null,"labels":false,"ticks":false,"domain":false,"grid":true,"values":[0,4000,8000,12000],"tickCount":20,"minExtent":0,"maxExtent":0}},"y":{"field":"d","type":"quantitative","scale":{"domain":[0,1],"nice":false},"axis":{"orient":"left","title":null,"labels":false,"ticks":false,"grid":true,"values":[1],"domain":true,"domainOpacity":0,"minExtent":38,"maxExtent":38}}}},
   {"mark":{"type":"line","color":"#808080","strokeWidth":2.6,"interpolate":"monotone"},"encoding":{"x":{"field":"x","type":"quantitative"},"y":{"field":"d","type":"quantitative","scale":{"domain":[0,1],"nice":false},"axis":{"orient":"right","title":null,"labels":false,"ticks":false,"grid":false,"domain":true,"domainOpacity":0,"minExtent":17,"maxExtent":17}}}}],
   "resolve":{"scale":{"y":"independent"}}},
  {"width":145,"height":119,"data":{"name":"L_cg"},"layer":[
   {"transform":[{"filter":"datum.s != 'm' && datum.l == '0'"}],"mark":{"type":"line","color":"#0173B2","strokeWidth":1.5,"opacity":0.18,"clip":true},"encoding":{"x":{"field":"x","type":"quantitative","scale":{"domain":[0,15024],"nice":false,"zero":false},"axis":{"title":"capital-gain","values":[0,4000,8000,12000],"tickCount":20,"format":"d","labelOverlap":false}},"y":{"field":"y","type":"quantitative","scale":{"domain":[-133,34.5],"nice":false,"zero":false},"axis":{"title":null,"values":[0,-50,-100],"tickCount":20,"format":"d","labelOverlap":false}},"detail":{"field":"s"}}},
   {"transform":[{"filter":"datum.s != 'm' && datum.l == '1.0'"}],"mark":{"type":"line","color":"#DE8F05","strokeWidth":1.5,"opacity":0.18,"clip":true},"encoding":{"x":{"field":"x","type":"quantitative"},"y":{"field":"y","type":"quantitative"},"detail":{"field":"s"}}},
   {"transform":[{"filter":"datum.s == 'm'"}],"mark":{"type":"line","color":"white","strokeWidth":4.5,"clip":true},"encoding":{"x":{"field":"x","type":"quantitative"},"y":{"field":"y","type":"quantitative"},"detail":{"field":"l"}}},
   {"transform":[{"filter":"datum.s == 'm'"}],"mark":{"type":"line","strokeWidth":2.5,"clip":true},"encoding":{"x":{"field":"x","type":"quantitative"},"y":{"field":"y","type":"quantitative"},"color":{"field":"l","type":"nominal","scale":{"domain":["0","1.0"],"range":["#0173B2","#DE8F05"]},"legend":{"title":"Reg. str. λ","orient":"bottom-right","offset":6,"symbolType":"M-1,0H2.8","symbolStrokeWidth":3,"symbolSize":196,"fillColor":"white","strokeColor":"#cccccc","padding":4,"cornerRadius":3,"rowPadding":1,"titlePadding":2,"labelOffset":20}}}}]}
 ],"spacing":0,"bounds":"flush","resolve":{"legend":{"color":"independent"}}},
 {"vconcat":[
  {"width":145,"height":30,"view":{"stroke":null},"data":{"name":"D_cl"},"layer":[
   {"mark":{"type":"area","color":"#e3e3e3","interpolate":"monotone"},"encoding":{"x":{"field":"x","type":"quantitative","scale":{"domain":[0,2000],"nice":false,"zero":false},"axis":{"title":null,"labels":false,"ticks":false,"domain":false,"grid":true,"values":[0,500,1000,1500,2000],"tickCount":20,"minExtent":0,"maxExtent":0}},"y":{"field":"d","type":"quantitative","scale":{"domain":[0,1],"nice":false},"axis":{"orient":"left","title":null,"labels":false,"ticks":false,"grid":true,"values":[1],"domain":true,"domainOpacity":0,"minExtent":49,"maxExtent":49}}}},
   {"mark":{"type":"line","color":"#808080","strokeWidth":2.6,"interpolate":"monotone"},"encoding":{"x":{"field":"x","type":"quantitative"},"y":{"field":"d","type":"quantitative","scale":{"domain":[0,1],"nice":false},"axis":{"orient":"right","title":null,"labels":false,"ticks":false,"grid":false,"domain":true,"domainOpacity":0,"minExtent":17,"maxExtent":17}}}}],
   "resolve":{"scale":{"y":"independent"}}},
  {"width":145,"height":119,"data":{"name":"L_cl"},"layer":[
   {"transform":[{"filter":"datum.s != 'm'"}],"mark":{"type":"line","strokeWidth":1.5,"opacity":0.18,"clip":true},"encoding":{"x":{"field":"x","type":"quantitative","scale":{"domain":[0,2000],"nice":false,"zero":false},"axis":{"title":"capital-loss","values":[0,500,1000,1500,2000],"tickCount":20,"format":"d","labelOverlap":false}},"y":{"field":"y","type":"quantitative","scale":{"domain":[-468,7.4],"nice":false,"zero":false},"axis":{"title":null,"values":[0,-200,-400],"tickCount":20,"format":"d","labelOverlap":false}},"color":{"field":"l","type":"nominal","scale":{"domain":["0","1.0"],"range":["#0173B2","#DE8F05"]},"legend":null},"detail":{"field":"s"}}},
   {"transform":[{"filter":"datum.s == 'm'"}],"mark":{"type":"line","color":"white","strokeWidth":4.5,"clip":true},"encoding":{"x":{"field":"x","type":"quantitative"},"y":{"field":"y","type":"quantitative"},"detail":{"field":"l"}}},
   {"transform":[{"filter":"datum.s == 'm'"}],"mark":{"type":"line","strokeWidth":2.5,"clip":true},"encoding":{"x":{"field":"x","type":"quantitative"},"y":{"field":"y","type":"quantitative"},"color":{"field":"l","type":"nominal","legend":null}}}]}
 ],"spacing":0,"bounds":"flush","resolve":{"legend":{"color":"independent"}}},
 {"vconcat":[
  {"width":145,"height":30,"view":{"stroke":null},"data":{"name":"D_ed"},"layer":[
   {"mark":{"type":"area","color":"#e3e3e3","interpolate":"monotone"},"encoding":{"x":{"field":"x","type":"quantitative","scale":{"domain":[0,15],"nice":false,"zero":false},"axis":{"title":null,"labels":false,"ticks":false,"domain":false,"grid":true,"values":[0,5,10,15],"tickCount":20,"minExtent":0,"maxExtent":0}},"y":{"field":"d","type":"quantitative","scale":{"domain":[0,1],"nice":false},"axis":{"orient":"left","title":null,"labels":false,"ticks":false,"grid":true,"values":[1],"domain":true,"domainOpacity":0,"minExtent":41,"maxExtent":41}}}},
   {"mark":{"type":"line","color":"#808080","strokeWidth":2.6,"interpolate":"monotone"},"encoding":{"x":{"field":"x","type":"quantitative"},"y":{"field":"d","type":"quantitative","scale":{"domain":[0,1],"nice":false},"axis":{"orient":"right","title":null,"labels":false,"ticks":false,"grid":false,"domain":true,"domainOpacity":0,"minExtent":17,"maxExtent":17}}}}],
   "resolve":{"scale":{"y":"independent"}}},
  {"width":145,"height":119,"data":{"name":"L_ed"},"layer":[
   {"transform":[{"filter":"datum.s != 'm'"}],"mark":{"type":"line","strokeWidth":1.5,"opacity":0.18,"clip":true},"encoding":{"x":{"field":"x","type":"quantitative","scale":{"domain":[0,15],"nice":false,"zero":false},"axis":{"title":"education","values":[0,5,10,15],"tickCount":20,"format":"d","labelOverlap":false}},"y":{"field":"y","type":"quantitative","scale":{"domain":[-0.73,0.603],"nice":false,"zero":false},"axis":{"title":null,"values":[-0.5,0,0.5],"tickCount":20,"format":".1f","labelOverlap":false}},"color":{"field":"l","type":"nominal","scale":{"domain":["0","1.0"],"range":["#0173B2","#DE8F05"]},"legend":null},"detail":{"field":"s"}}},
   {"transform":[{"filter":"datum.s == 'm'"}],"mark":{"type":"line","color":"white","strokeWidth":4.5,"clip":true},"encoding":{"x":{"field":"x","type":"quantitative"},"y":{"field":"y","type":"quantitative"},"detail":{"field":"l"}}},
   {"transform":[{"filter":"datum.s == 'm'"}],"mark":{"type":"line","strokeWidth":2.5,"clip":true},"encoding":{"x":{"field":"x","type":"quantitative"},"y":{"field":"y","type":"quantitative"},"color":{"field":"l","type":"nominal","legend":null}}}]}
 ],"spacing":0,"bounds":"flush","resolve":{"legend":{"color":"independent"}}}
],"spacing":0,"resolve":{"legend":{"color":"independent"}}},
{"hconcat":[
 {"vconcat":[
  {"width":145,"height":30,"view":{"stroke":null},"data":{"name":"D_en"},"layer":[
   {"mark":{"type":"area","color":"#e3e3e3","interpolate":"monotone"},"encoding":{"x":{"field":"x","type":"quantitative","scale":{"domain":[3,16],"nice":false,"zero":false},"axis":{"title":null,"labels":false,"ticks":false,"domain":false,"grid":true,"values":[3,6,9,12,15],"tickCount":20,"minExtent":0,"maxExtent":0}},"y":{"field":"d","type":"quantitative","scale":{"domain":[0,1],"nice":false},"axis":{"orient":"left","title":null,"labels":false,"ticks":false,"grid":true,"values":[1],"domain":true,"domainOpacity":0,"minExtent":60,"maxExtent":60}}}},
   {"mark":{"type":"line","color":"#808080","strokeWidth":2.6,"interpolate":"monotone"},"encoding":{"x":{"field":"x","type":"quantitative"},"y":{"field":"d","type":"quantitative","scale":{"domain":[0,1],"nice":false},"axis":{"orient":"right","title":null,"labels":false,"ticks":false,"grid":false,"domain":true,"domainOpacity":0,"minExtent":17,"maxExtent":17}}}}],
   "resolve":{"scale":{"y":"independent"}}},
  {"width":145,"height":119,"data":{"name":"L_en"},"layer":[
   {"transform":[{"filter":"datum.s != 'm'"}],"mark":{"type":"line","strokeWidth":1.5,"opacity":0.18,"clip":true},"encoding":{"x":{"field":"x","type":"quantitative","scale":{"domain":[3,16],"nice":false,"zero":false},"axis":{"title":"educational-num","values":[3,6,9,12,15],"tickCount":20,"format":"d","labelOverlap":false}},"y":{"field":"y","type":"quantitative","scale":{"domain":[-2.65,2.72],"nice":false,"zero":false},"axis":{"title":"Log-Odds","titlePadding":6.7,"values":[-2,0,2],"tickCount":20,"format":"d","labelOverlap":false}},"color":{"field":"l","type":"nominal","scale":{"domain":["0","1.0"],"range":["#0173B2","#DE8F05"]},"legend":null},"detail":{"field":"s"}}},
   {"transform":[{"filter":"datum.s == 'm'"}],"mark":{"type":"line","color":"white","strokeWidth":4.5,"clip":true},"encoding":{"x":{"field":"x","type":"quantitative"},"y":{"field":"y","type":"quantitative"},"detail":{"field":"l"}}},
   {"transform":[{"filter":"datum.s == 'm'"}],"mark":{"type":"line","strokeWidth":2.5,"clip":true},"encoding":{"x":{"field":"x","type":"quantitative"},"y":{"field":"y","type":"quantitative"},"color":{"field":"l","type":"nominal","legend":null}}}]}
 ],"spacing":0,"bounds":"flush","resolve":{"legend":{"color":"independent"}}},
 {"vconcat":[
  {"width":145,"height":30,"view":{"stroke":null},"data":{"name":"D_fn"},"layer":[
   {"mark":{"type":"area","color":"#e3e3e3","interpolate":"monotone"},"encoding":{"x":{"field":"x","type":"quantitative","scale":{"domain":[25000,510000],"nice":false,"zero":false},"axis":{"title":null,"labels":false,"ticks":false,"domain":false,"grid":true,"values":[100000,200000,300000,400000,500000],"tickCount":20,"minExtent":0,"maxExtent":0}},"y":{"field":"d","type":"quantitative","scale":{"domain":[0,1],"nice":false},"axis":{"orient":"left","title":null,"labels":false,"ticks":false,"grid":true,"values":[1],"domain":true,"domainOpacity":0,"minExtent":38,"maxExtent":38}}}},
   {"mark":{"type":"line","color":"#808080","strokeWidth":2.6,"interpolate":"monotone"},"encoding":{"x":{"field":"x","type":"quantitative"},"y":{"field":"d","type":"quantitative","scale":{"domain":[0,1],"nice":false},"axis":{"orient":"right","title":null,"labels":false,"ticks":false,"grid":false,"domain":true,"domainOpacity":0,"minExtent":17,"maxExtent":17}}}}],
   "resolve":{"scale":{"y":"independent"}}},
  {"width":145,"height":119,"data":{"name":"L_fn"},"layer":[
   {"transform":[{"filter":"datum.s != 'm'"}],"mark":{"type":"line","strokeWidth":1.5,"opacity":0.18,"clip":true,"interpolate":"monotone"},"encoding":{"x":{"field":"x","type":"quantitative","scale":{"domain":[25000,510000],"nice":false,"zero":false},"axis":{"title":"fnlwgt","values":[100000,200000,300000,400000,500000],"tickCount":20,"format":"d","labelOverlap":false}},"y":{"field":"y","type":"quantitative","scale":{"domain":[-0.45,0.44],"nice":false,"zero":false},"axis":{"title":null,"values":[-0.25,0,0.25],"tickCount":20,"format":".2f","labelOverlap":false}},"color":{"field":"l","type":"nominal","scale":{"domain":["0","1.0"],"range":["#0173B2","#DE8F05"]},"legend":null},"detail":{"field":"s"}}},
   {"transform":[{"filter":"datum.s == 'm'"}],"mark":{"type":"line","color":"white","strokeWidth":4.5,"clip":true,"interpolate":"monotone"},"encoding":{"x":{"field":"x","type":"quantitative"},"y":{"field":"y","type":"quantitative"},"detail":{"field":"l"}}},
   {"transform":[{"filter":"datum.s == 'm'"}],"mark":{"type":"line","strokeWidth":2.5,"clip":true,"interpolate":"monotone"},"encoding":{"x":{"field":"x","type":"quantitative"},"y":{"field":"y","type":"quantitative"},"color":{"field":"l","type":"nominal","legend":null}}}]}
 ],"spacing":0,"bounds":"flush","resolve":{"legend":{"color":"independent"}}},
 {"vconcat":[
  {"width":145,"height":30,"view":{"stroke":null},"data":{"name":"D_ge"},"layer":[
   {"mark":{"type":"area","color":"#e3e3e3","interpolate":"monotone"},"encoding":{"x":{"field":"x","type":"quantitative","scale":{"domain":[0,1],"nice":false,"zero":false},"axis":{"title":null,"labels":false,"ticks":false,"domain":false,"grid":true,"values":[0,0.5,1],"tickCount":20,"minExtent":0,"maxExtent":0}},"y":{"field":"d","type":"quantitative","scale":{"domain":[0,1],"nice":false},"axis":{"orient":"left","title":null,"labels":false,"ticks":false,"grid":true,"values":[1],"domain":true,"domainOpacity":0,"minExtent":49,"maxExtent":49}}}},
   {"mark":{"type":"line","color":"#808080","strokeWidth":2.6,"interpolate":"monotone"},"encoding":{"x":{"field":"x","type":"quantitative"},"y":{"field":"d","type":"quantitative","scale":{"domain":[0,1],"nice":false},"axis":{"orient":"right","title":null,"labels":false,"ticks":false,"grid":false,"domain":true,"domainOpacity":0,"minExtent":17,"maxExtent":17}}}}],
   "resolve":{"scale":{"y":"independent"}}},
  {"width":145,"height":119,"data":{"name":"L_ge"},"layer":[
   {"transform":[{"filter":"datum.s != 'm'"}],"mark":{"type":"line","strokeWidth":1.5,"opacity":0.18,"clip":true},"encoding":{"x":{"field":"x","type":"quantitative","scale":{"domain":[0,1],"nice":false,"zero":false},"axis":{"title":"gender","values":[0,0.5,1],"tickCount":20,"format":".1f","labelOverlap":false}},"y":{"field":"y","type":"quantitative","scale":{"domain":[-0.583,0.289],"nice":false,"zero":false},"axis":{"title":null,"values":[-0.5,-0.25,0,0.25],"tickCount":20,"format":".2f","labelOverlap":false}},"color":{"field":"l","type":"nominal","scale":{"domain":["0","1.0"],"range":["#0173B2","#DE8F05"]},"legend":null},"detail":{"field":"s"}}},
   {"transform":[{"filter":"datum.s == 'm'"}],"mark":{"type":"line","color":"white","strokeWidth":4.5,"clip":true},"encoding":{"x":{"field":"x","type":"quantitative"},"y":{"field":"y","type":"quantitative"},"detail":{"field":"l"}}},
   {"transform":[{"filter":"datum.s == 'm'"}],"mark":{"type":"line","strokeWidth":2.5,"clip":true},"encoding":{"x":{"field":"x","type":"quantitative"},"y":{"field":"y","type":"quantitative"},"color":{"field":"l","type":"nominal","legend":null}}}]}
 ],"spacing":0,"bounds":"flush","resolve":{"legend":{"color":"independent"}}},
 {"vconcat":[
  {"width":145,"height":30,"view":{"stroke":null},"data":{"name":"D_hw"},"layer":[
   {"mark":{"type":"area","color":"#e3e3e3","interpolate":"monotone"},"encoding":{"x":{"field":"x","type":"quantitative","scale":{"domain":[7,80.5],"nice":false,"zero":false},"axis":{"title":null,"labels":false,"ticks":false,"domain":false,"grid":true,"values":[15,30,45,60,75],"tickCount":20,"minExtent":0,"maxExtent":0}},"y":{"field":"d","type":"quantitative","scale":{"domain":[0,1],"nice":false},"axis":{"orient":"left","title":null,"labels":false,"ticks":false,"grid":true,"values":[1],"domain":true,"domainOpacity":0,"minExtent":41,"maxExtent":41}}}},
   {"mark":{"type":"line","color":"#808080","strokeWidth":2.6,"interpolate":"monotone"},"encoding":{"x":{"field":"x","type":"quantitative"},"y":{"field":"d","type":"quantitative","scale":{"domain":[0,1],"nice":false},"axis":{"orient":"right","title":null,"labels":false,"ticks":false,"grid":false,"domain":true,"domainOpacity":0,"minExtent":17,"maxExtent":17}}}}],
   "resolve":{"scale":{"y":"independent"}}},
  {"width":145,"height":119,"data":{"name":"L_hw"},"layer":[
   {"transform":[{"filter":"datum.s != 'm'"}],"mark":{"type":"line","strokeWidth":1.5,"opacity":0.18,"clip":true,"interpolate":"monotone"},"encoding":{"x":{"field":"x","type":"quantitative","scale":{"domain":[7,80.5],"nice":false,"zero":false},"axis":{"title":"hours-per-week","values":[15,30,45,60,75],"tickCount":20,"format":"d","labelOverlap":false}},"y":{"field":"y","type":"quantitative","scale":{"domain":[-1.9,0.936],"nice":false,"zero":false},"axis":{"title":null,"values":[-1,0],"tickCount":20,"format":"d","labelOverlap":false}},"color":{"field":"l","type":"nominal","scale":{"domain":["0","1.0"],"range":["#0173B2","#DE8F05"]},"legend":null},"detail":{"field":"s"}}},
   {"transform":[{"filter":"datum.s == 'm'"}],"mark":{"type":"line","color":"white","strokeWidth":4.5,"clip":true,"interpolate":"monotone"},"encoding":{"x":{"field":"x","type":"quantitative"},"y":{"field":"y","type":"quantitative"},"detail":{"field":"l"}}},
   {"transform":[{"filter":"datum.s == 'm'"}],"mark":{"type":"line","strokeWidth":2.5,"clip":true,"interpolate":"monotone"},"encoding":{"x":{"field":"x","type":"quantitative"},"y":{"field":"y","type":"quantitative"},"color":{"field":"l","type":"nominal","legend":null}}}]}
 ],"spacing":0,"bounds":"flush","resolve":{"legend":{"color":"independent"}}}
],"spacing":0,"resolve":{"legend":{"color":"independent"}}},
{"hconcat":[
 {"vconcat":[
  {"width":145,"height":30,"view":{"stroke":null},"data":{"name":"D_ms"},"layer":[
   {"mark":{"type":"area","color":"#e3e3e3","interpolate":"monotone"},"encoding":{"x":{"field":"x","type":"quantitative","scale":{"domain":[0,6],"nice":false,"zero":false},"axis":{"title":null,"labels":false,"ticks":false,"domain":false,"grid":true,"values":[0,2,4,6],"tickCount":20,"minExtent":0,"maxExtent":0}},"y":{"field":"d","type":"quantitative","scale":{"domain":[0,1],"nice":false},"axis":{"orient":"left","title":null,"labels":false,"ticks":false,"grid":true,"values":[1],"domain":true,"domainOpacity":0,"minExtent":60,"maxExtent":60}}}},
   {"mark":{"type":"line","color":"#808080","strokeWidth":2.6,"interpolate":"monotone"},"encoding":{"x":{"field":"x","type":"quantitative"},"y":{"field":"d","type":"quantitative","scale":{"domain":[0,1],"nice":false},"axis":{"orient":"right","title":null,"labels":false,"ticks":false,"grid":false,"domain":true,"domainOpacity":0,"minExtent":17,"maxExtent":17}}}}],
   "resolve":{"scale":{"y":"independent"}}},
  {"width":145,"height":119,"data":{"name":"L_ms"},"layer":[
   {"transform":[{"filter":"datum.s != 'm'"}],"mark":{"type":"line","strokeWidth":1.5,"opacity":0.18,"clip":true},"encoding":{"x":{"field":"x","type":"quantitative","scale":{"domain":[0,6],"nice":false,"zero":false},"axis":{"title":"marital-status","values":[0,2,4,6],"tickCount":20,"format":"d","labelOverlap":false}},"y":{"field":"y","type":"quantitative","scale":{"domain":[-1.49,2.91],"nice":false,"zero":false},"axis":{"title":"Log-Odds","titlePadding":7.3,"values":[0,2],"tickCount":20,"format":"d","labelOverlap":false}},"color":{"field":"l","type":"nominal","scale":{"domain":["0","1.0"],"range":["#0173B2","#DE8F05"]},"legend":null},"detail":{"field":"s"}}},
   {"transform":[{"filter":"datum.s == 'm'"}],"mark":{"type":"line","color":"white","strokeWidth":4.5,"clip":true},"encoding":{"x":{"field":"x","type":"quantitative"},"y":{"field":"y","type":"quantitative"},"detail":{"field":"l"}}},
   {"transform":[{"filter":"datum.s == 'm'"}],"mark":{"type":"line","strokeWidth":2.5,"clip":true},"encoding":{"x":{"field":"x","type":"quantitative"},"y":{"field":"y","type":"quantitative"},"color":{"field":"l","type":"nominal","legend":null}}}]}
 ],"spacing":0,"bounds":"flush","resolve":{"legend":{"color":"independent"}}},
 {"vconcat":[
  {"width":145,"height":30,"view":{"stroke":null},"data":{"name":"D_nc"},"layer":[
   {"mark":{"type":"area","color":"#e3e3e3","interpolate":"monotone"},"encoding":{"x":{"field":"x","type":"quantitative","scale":{"domain":[0,39.5],"nice":false,"zero":false},"axis":{"title":null,"labels":false,"ticks":false,"domain":false,"grid":true,"values":[0,20],"tickCount":20,"minExtent":0,"maxExtent":0}},"y":{"field":"d","type":"quantitative","scale":{"domain":[0,1],"nice":false},"axis":{"orient":"left","title":null,"labels":false,"ticks":false,"grid":true,"values":[1],"domain":true,"domainOpacity":0,"minExtent":38,"maxExtent":38}}}},
   {"mark":{"type":"line","color":"#808080","strokeWidth":2.6,"interpolate":"monotone"},"encoding":{"x":{"field":"x","type":"quantitative"},"y":{"field":"d","type":"quantitative","scale":{"domain":[0,1],"nice":false},"axis":{"orient":"right","title":null,"labels":false,"ticks":false,"grid":false,"domain":true,"domainOpacity":0,"minExtent":17,"maxExtent":17}}}}],
   "resolve":{"scale":{"y":"independent"}}},
  {"width":145,"height":119,"data":{"name":"L_nc"},"layer":[
   {"transform":[{"filter":"datum.s != 'm'"}],"mark":{"type":"line","strokeWidth":1.5,"opacity":0.18,"clip":true},"encoding":{"x":{"field":"x","type":"quantitative","scale":{"domain":[0,39.5],"nice":false,"zero":false},"axis":{"title":"native-country","values":[0,20],"tickCount":20,"format":"d","labelOverlap":false}},"y":{"field":"y","type":"quantitative","scale":{"domain":[-6.64,1.74],"nice":false,"zero":false},"axis":{"title":null,"values":[-5,-2.5,0],"tickCount":20,"format":".1f","labelOverlap":false}},"color":{"field":"l","type":"nominal","scale":{"domain":["0","1.0"],"range":["#0173B2","#DE8F05"]},"legend":null},"detail":{"field":"s"}}},
   {"transform":[{"filter":"datum.s == 'm'"}],"mark":{"type":"line","color":"white","strokeWidth":4.5,"clip":true},"encoding":{"x":{"field":"x","type":"quantitative"},"y":{"field":"y","type":"quantitative"},"detail":{"field":"l"}}},
   {"transform":[{"filter":"datum.s == 'm'"}],"mark":{"type":"line","strokeWidth":2.5,"clip":true},"encoding":{"x":{"field":"x","type":"quantitative"},"y":{"field":"y","type":"quantitative"},"color":{"field":"l","type":"nominal","legend":null}}}]}
 ],"spacing":0,"bounds":"flush","resolve":{"legend":{"color":"independent"}}},
 {"vconcat":[
  {"width":145,"height":30,"view":{"stroke":null},"data":{"name":"D_oc"},"layer":[
   {"mark":{"type":"area","color":"#e3e3e3","interpolate":"monotone"},"encoding":{"x":{"field":"x","type":"quantitative","scale":{"domain":[0,14],"nice":false,"zero":false},"axis":{"title":null,"labels":false,"ticks":false,"domain":false,"grid":true,"values":[0,5,10],"tickCount":20,"minExtent":0,"maxExtent":0}},"y":{"field":"d","type":"quantitative","scale":{"domain":[0,1],"nice":false},"axis":{"orient":"left","title":null,"labels":false,"ticks":false,"grid":true,"values":[1],"domain":true,"domainOpacity":0,"minExtent":49,"maxExtent":49}}}},
   {"mark":{"type":"line","color":"#808080","strokeWidth":2.6,"interpolate":"monotone"},"encoding":{"x":{"field":"x","type":"quantitative"},"y":{"field":"d","type":"quantitative","scale":{"domain":[0,1],"nice":false},"axis":{"orient":"right","title":null,"labels":false,"ticks":false,"grid":false,"domain":true,"domainOpacity":0,"minExtent":17,"maxExtent":17}}}}],
   "resolve":{"scale":{"y":"independent"}}},
  {"width":145,"height":119,"data":{"name":"L_oc"},"layer":[
   {"transform":[{"filter":"datum.s != 'm'"}],"mark":{"type":"line","strokeWidth":1.5,"opacity":0.18,"clip":true},"encoding":{"x":{"field":"x","type":"quantitative","scale":{"domain":[0,14],"nice":false,"zero":false},"axis":{"title":"occupation","values":[0,5,10],"tickCount":20,"format":"d","labelOverlap":false}},"y":{"field":"y","type":"quantitative","scale":{"domain":[-1.89,1.93],"nice":false,"zero":false},"axis":{"title":null,"values":[-1,0,1],"tickCount":20,"format":"d","labelOverlap":false}},"color":{"field":"l","type":"nominal","scale":{"domain":["0","1.0"],"range":["#0173B2","#DE8F05"]},"legend":null},"detail":{"field":"s"}}},
   {"transform":[{"filter":"datum.s == 'm'"}],"mark":{"type":"line","color":"white","strokeWidth":4.5,"clip":true},"encoding":{"x":{"field":"x","type":"quantitative"},"y":{"field":"y","type":"quantitative"},"detail":{"field":"l"}}},
   {"transform":[{"filter":"datum.s == 'm'"}],"mark":{"type":"line","strokeWidth":2.5,"clip":true},"encoding":{"x":{"field":"x","type":"quantitative"},"y":{"field":"y","type":"quantitative"},"color":{"field":"l","type":"nominal","legend":null}}}]}
 ],"spacing":0,"bounds":"flush","resolve":{"legend":{"color":"independent"}}},
 {"vconcat":[
  {"width":145,"height":30,"view":{"stroke":null},"data":{"name":"D_ra"},"layer":[
   {"mark":{"type":"area","color":"#e3e3e3","interpolate":"monotone"},"encoding":{"x":{"field":"x","type":"quantitative","scale":{"domain":[1,4],"nice":false,"zero":false},"axis":{"title":null,"labels":false,"ticks":false,"domain":false,"grid":true,"values":[1,2,3,4],"tickCount":20,"minExtent":0,"maxExtent":0}},"y":{"field":"d","type":"quantitative","scale":{"domain":[0,1],"nice":false},"axis":{"orient":"left","title":null,"labels":false,"ticks":false,"grid":true,"values":[1],"domain":true,"domainOpacity":0,"minExtent":41,"maxExtent":41}}}},
   {"mark":{"type":"line","color":"#808080","strokeWidth":2.6,"interpolate":"monotone"},"encoding":{"x":{"field":"x","type":"quantitative"},"y":{"field":"d","type":"quantitative","scale":{"domain":[0,1],"nice":false},"axis":{"orient":"right","title":null,"labels":false,"ticks":false,"grid":false,"domain":true,"domainOpacity":0,"minExtent":17,"maxExtent":17}}}}],
   "resolve":{"scale":{"y":"independent"}}},
  {"width":145,"height":119,"data":{"name":"L_ra"},"layer":[
   {"transform":[{"filter":"datum.s != 'm'"}],"mark":{"type":"line","strokeWidth":1.5,"opacity":0.18,"clip":true},"encoding":{"x":{"field":"x","type":"quantitative","scale":{"domain":[1,4],"nice":false,"zero":false},"axis":{"title":"race","values":[1,2,3,4],"tickCount":20,"format":"d","labelOverlap":false}},"y":{"field":"y","type":"quantitative","scale":{"domain":[-0.449,0.172],"nice":false,"zero":false},"axis":{"title":null,"values":[-0.4,-0.2,0],"tickCount":20,"format":".1f","labelOverlap":false}},"color":{"field":"l","type":"nominal","scale":{"domain":["0","1.0"],"range":["#0173B2","#DE8F05"]},"legend":null},"detail":{"field":"s"}}},
   {"transform":[{"filter":"datum.s == 'm'"}],"mark":{"type":"line","color":"white","strokeWidth":4.5,"clip":true},"encoding":{"x":{"field":"x","type":"quantitative"},"y":{"field":"y","type":"quantitative"},"detail":{"field":"l"}}},
   {"transform":[{"filter":"datum.s == 'm'"}],"mark":{"type":"line","strokeWidth":2.5,"clip":true},"encoding":{"x":{"field":"x","type":"quantitative"},"y":{"field":"y","type":"quantitative"},"color":{"field":"l","type":"nominal","legend":null}}}]}
 ],"spacing":0,"bounds":"flush","resolve":{"legend":{"color":"independent"}}}
],"spacing":0,"resolve":{"legend":{"color":"independent"}}}
]
}
